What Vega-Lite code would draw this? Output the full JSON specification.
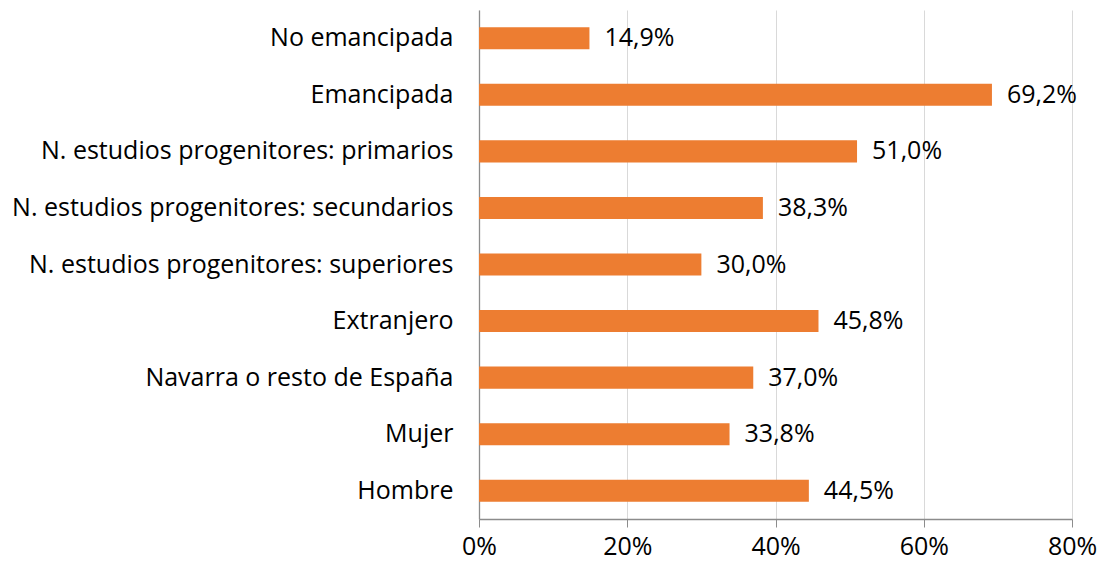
{
  "$schema": "https://vega.github.io/schema/vega-lite/v6.json",
  "autosize": "none",
  "width": 593,
  "height": 509,
  "padding": {"left": 479, "top": 10, "right": 31, "bottom": 45},
  "background": "white",
  "config": {
    "locale": {"number": {"decimal": ",", "thousands": ".", "grouping": [3], "currency": ["", " €"]}},
    "view": {"stroke": null},
    "font": "Open Sans"
  },
  "data": {
    "values": [
      {"cat": "No emancipada", "v": 0.149},
      {"cat": "Emancipada", "v": 0.692},
      {"cat": "N. estudios progenitores: primarios", "v": 0.510},
      {"cat": "N. estudios progenitores: secundarios", "v": 0.383},
      {"cat": "N. estudios progenitores: superiores", "v": 0.300},
      {"cat": "Extranjero", "v": 0.458},
      {"cat": "Navarra o resto de España", "v": 0.370},
      {"cat": "Mujer", "v": 0.338},
      {"cat": "Hombre", "v": 0.445}
    ]
  },
  "encoding": {
    "y": {
      "field": "cat", "type": "nominal", "sort": null, "title": null,
      "scale": {"paddingInner": 0.61, "paddingOuter": 0.305},
      "axis": {"ticks": false, "labelFontSize": 25, "labelColor": "#000000", "labelPadding": 26, "domainColor": "#8c8c8c", "domainWidth": 1.3, "labelLimit": 500, "labelFont": "Open Sans"}
    },
    "x": {
      "field": "v", "type": "quantitative", "title": null,
      "scale": {"domain": [0, 0.8]},
      "axis": {"format": ".0%", "values": [0, 0.2, 0.4, 0.6, 0.8], "labelOverlap": false, "labelFlush": false, "labelFontSize": 25, "labelColor": "#000000", "labelFont": "Open Sans", "labelPadding": 7, "tickSize": 8, "tickColor": "#8c8c8c", "domainColor": "#8c8c8c", "domainWidth": 1.3, "gridColor": "#d9d9d9", "gridWidth": 1}
    }
  },
  "layer": [
    {"mark": {"type": "bar", "color": "#ED7D31"}},
    {"mark": {"type": "text", "align": "left", "dx": 15, "fontSize": 25, "font": "Open Sans", "color": "#000000"},
     "encoding": {"text": {"field": "v", "type": "quantitative", "format": ".1%"}}}
  ]
}
